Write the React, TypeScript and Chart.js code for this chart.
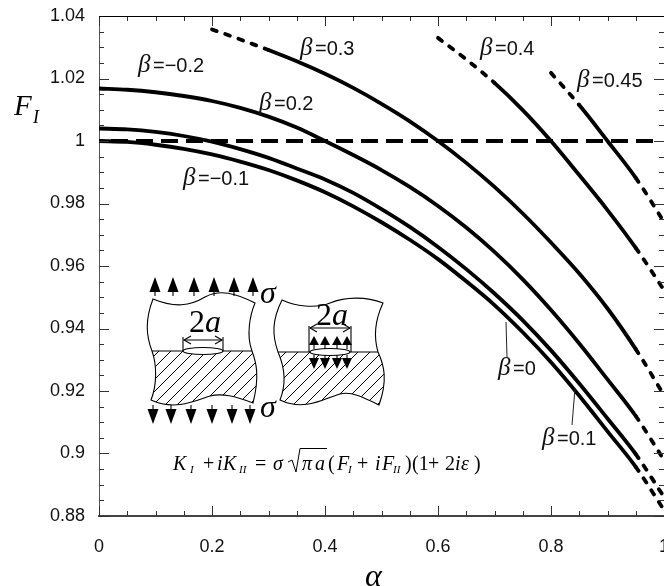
import React, { useEffect, useRef } from "react";
import { Chart, registerables } from "chart.js";

Chart.register(...registerables);

const alphaAll = [0, 0.05, 0.1, 0.15, 0.2, 0.25, 0.3, 0.35, 0.4, 0.45, 0.5, 0.55, 0.6, 0.65, 0.7, 0.75, 0.8, 0.85, 0.9, 0.95, 1];
const alpha03 = alphaAll.slice(4);
const alpha04 = alphaAll.slice(12);
const alpha045 = alphaAll.slice(16);

const beta0 = [1.0, 0.9997, 0.9988, 0.9975, 0.9957, 0.9934, 0.9907, 0.9874, 0.9836, 0.9791, 0.974, 0.9684, 0.9622, 0.9551, 0.9475, 0.9388, 0.9292, 0.9185, 0.9071, 0.8957, 0.8819];
const beta01 = [1.004, 1.0037, 1.0029, 1.0016, 0.9998, 0.9974, 0.9946, 0.9912, 0.9877, 0.9834, 0.9782, 0.9725, 0.9661, 0.959, 0.9512, 0.9426, 0.933, 0.9224, 0.9112, 0.8998, 0.8861];
const beta02 = [1.0168, 1.0164, 1.0156, 1.0144, 1.0128, 1.0106, 1.0078, 1.0043, 1.0, 0.9955, 0.9907, 0.9853, 0.9792, 0.9723, 0.9645, 0.9557, 0.9459, 0.9352, 0.9237, 0.912, 0.8979];
const beta03 = [1.0357, 1.0325, 1.0291, 1.0255, 1.0215, 1.017, 1.0119, 1.0063, 1.0, 0.993, 0.9853, 0.9768, 0.9675, 0.9576, 0.9464, 0.9334, 0.9187];
const beta04 = [1.033, 1.0261, 1.0186, 1.0099, 1.0, 0.9891, 0.9779, 0.9658, 0.9523];
const beta045 = [1.0218, 1.0115, 1.0, 0.9882, 0.9741];
const referenceX = [0, 0.982];
const referenceY = [1, 1];

const xTickLabels = ["0", "0.2", "0.4", "0.6", "0.8", "1"];
const yTickLabels = ["0.88", "0.9", "0.92", "0.94", "0.96", "0.98", "1", "1.02", "1.04"];

const SERIF = '"Liberation Serif"';
const SANS = '"Liberation Sans"';

const betaLabels: [string, number, number][] = [
  ["=\u22120.2", 138, 65],
  ["=0.3", 300, 48],
  ["=0.2", 259, 103],
  ["=\u22120.1", 183, 178],
  ["=0.4", 480, 48],
  ["=0.45", 577, 80],
  ["=0", 498, 368],
  ["=0.1", 542, 438],
];

const formulaParts: [string, number, number, boolean][] = [
  ["K", 173, 20, true], ["I", 190, 11, true], ["+", 203, 20, false], ["i", 217, 20, true], ["K", 223, 20, true],
  ["II", 239, 11, true], ["=", 255, 20, false], ["\u03c3", 273, 20, true], ["\u03c0", 302, 20, true], ["a", 315, 20, true],
  ["(", 328, 20, false], ["F", 337, 20, true], ["I", 348, 11, true], ["+", 357, 20, false], ["i", 375, 20, true],
  ["F", 382, 20, true], ["II", 393, 11, true], [")", 405, 20, false], ["(1", 412, 20, false], ["+", 428, 20, false],
  ["2", 445, 20, false], ["i", 455, 20, true], ["\u03b5", 461, 20, true], [")", 474, 20, false],
];

function toXY(xs: number[], ys: number[]) {
  return xs.map((x, i) => ({ x, y: ys[i] }));
}

function curve(label: string, xs: number[], ys: number[], dashUntil: number) {
  return {
    label,
    data: toXY(xs, ys),
    borderColor: "#000",
    borderWidth: 3.8,
    borderCapStyle: "round" as const,
    pointRadius: 0,
    cubicInterpolationMode: "monotone" as const,
    segment: {
      borderDash: (ctx: any) =>
        ctx.p0.parsed.x >= 0.949 || ctx.p0.parsed.x < dashUntil ? [5, 9] : undefined,
    },
  };
}

function path(ctx: CanvasRenderingContext2D, pts: number[][]) {
  ctx.beginPath();
  pts.forEach((p, i) => (i === 0 ? ctx.moveTo(p[0], p[1]) : ctx.lineTo(p[0], p[1])));
  ctx.stroke();
}

function arrowHead(ctx: CanvasRenderingContext2D, x: number, tip: number, base: number, hw: number, shaft: number) {
  ctx.beginPath();
  ctx.moveTo(x, tip);
  ctx.lineTo(x - hw, base);
  ctx.lineTo(x + hw, base);
  ctx.closePath();
  ctx.fill();
  ctx.beginPath();
  ctx.moveTo(x, base);
  ctx.lineTo(x, shaft);
  ctx.stroke();
}

function doubleArrow(ctx: CanvasRenderingContext2D, x0: number, x1: number, y: number) {
  path(ctx, [[x0, y], [x1, y]]);
  path(ctx, [[x0 + 7, y - 4], [x0, y], [x0 + 7, y + 4]]);
  path(ctx, [[x1 - 7, y - 4], [x1, y], [x1 - 7, y + 4]]);
}

function block(ctx: CanvasRenderingContext2D, outline: () => void, lineY: number, left: number, right: number, bottom: number) {
  ctx.save();
  ctx.beginPath();
  outline();
  ctx.clip();
  ctx.beginPath();
  ctx.rect(left - 20, lineY, right - left + 40, bottom - lineY + 20);
  ctx.clip();
  ctx.lineWidth = 1;
  for (let c = left - 80; c < right + 90; c += 12) {
    ctx.beginPath();
    ctx.moveTo(c, bottom + 10);
    ctx.lineTo(c + 80, bottom - 70);
    ctx.stroke();
  }
  ctx.restore();
  ctx.beginPath();
  outline();
  ctx.stroke();
}

function drawInset(ctx: CanvasRenderingContext2D) {
  ctx.save();
  ctx.strokeStyle = "#000";
  ctx.fillStyle = "#000";
  ctx.lineWidth = 1.1;

  const leftOutline = () => {
    ctx.moveTo(153, 299);
    ctx.bezierCurveTo(175, 308, 190, 306, 205, 297);
    ctx.bezierCurveTo(220, 289, 235, 293, 255, 303);
    ctx.bezierCurveTo(250, 315, 246, 335, 252, 351);
    ctx.bezierCurveTo(256, 362, 260, 375, 253, 403);
    ctx.bezierCurveTo(235, 396, 222, 393, 210, 396);
    ctx.bezierCurveTo(195, 401, 175, 411, 151, 400);
    ctx.bezierCurveTo(157, 385, 157, 365, 152, 351);
    ctx.bezierCurveTo(146, 335, 145, 320, 153, 299);
    ctx.closePath();
  };
  const rightOutline = () => {
    ctx.moveTo(282, 300);
    ctx.bezierCurveTo(295, 306, 315, 309, 330, 303);
    ctx.bezierCurveTo(345, 297, 365, 296, 383, 303);
    ctx.bezierCurveTo(376, 318, 373, 335, 378, 352);
    ctx.bezierCurveTo(384, 365, 388, 380, 379, 405);
    ctx.bezierCurveTo(365, 398, 352, 391, 340, 394);
    ctx.bezierCurveTo(325, 398, 305, 412, 280, 400);
    ctx.bezierCurveTo(286, 385, 285, 368, 278, 352);
    ctx.bezierCurveTo(272, 335, 272, 320, 282, 300);
    ctx.closePath();
  };
  block(ctx, leftOutline, 351, 146, 260, 410);
  block(ctx, rightOutline, 352, 272, 388, 412);
  path(ctx, [[152, 351], [252, 351]]);
  path(ctx, [[278, 352], [378, 352]]);

  [[203, 351], [330, 352]].forEach(([x, y]) => {
    ctx.save();
    ctx.fillStyle = "#fff";
    ctx.beginPath();
    ctx.ellipse(x, y, 20, 3.5, 0, 0, Math.PI * 2);
    ctx.fill();
    ctx.stroke();
    ctx.restore();
  });

  path(ctx, [[183, 337], [183, 351]]);
  path(ctx, [[223, 337], [223, 351]]);
  doubleArrow(ctx, 184, 222, 340);
  path(ctx, [[309, 326], [309, 352]]);
  path(ctx, [[351, 326], [351, 352]]);
  doubleArrow(ctx, 310, 350, 328);

  [155, 173, 194, 214, 234, 253].forEach((x) => arrowHead(ctx, x, 277, 292, 5.5, 296));
  [153, 171, 191, 212, 232, 250].forEach((x) => arrowHead(ctx, x, 424, 409, 5.5, 405));
  [314, 325, 337, 347].forEach((x) => arrowHead(ctx, x, 336, 345, 5, 349));
  [314, 325, 337, 347].forEach((x) => arrowHead(ctx, x, 369, 358, 5, 355));

  ctx.textAlign = "center";
  ctx.textBaseline = "alphabetic";
  const twoA = (cx: number, by: number) => {
    ctx.font = `32px ${SERIF}`;
    ctx.fillText("2", cx - 8, by);
    ctx.font = `italic 32px ${SERIF}`;
    ctx.fillText("a", cx + 8, by);
  };
  twoA(205, 332);
  twoA(332, 325);

  ctx.font = `italic 32px ${SERIF}`;
  ctx.fillText("\u03c3", 268, 303);
  ctx.fillText("\u03c3", 268, 417);

  ctx.textAlign = "left";
  formulaParts.forEach(([t, x, size, italic]) => {
    ctx.font = `${italic ? "italic " : ""}${size}px ${SERIF}`;
    ctx.fillText(t, x, size < 15 ? 473 : 470);
  });
  ctx.lineWidth = 1;
  path(ctx, [[288, 462], [292, 460], [296, 472], [300, 448.5], [327, 448.5]]);
  ctx.restore();
}

const overlayPlugin = {
  id: "overlay",
  afterDatasetsDraw(chart: any) {
    const ctx: CanvasRenderingContext2D = chart.ctx;
    const { left, right, top, bottom } = chart.chartArea;
    const { x, y } = chart.scales;
    ctx.save();
    ctx.lineWidth = 1;

    ctx.strokeStyle = "#333";
    y.ticks.forEach((t: any, i: number) => {
      const py = Math.round(y.getPixelForValue(t.value)) + 0.5;
      const len = i % 4 === 0 ? 10 : 5;
      path(ctx, [[left, py], [left + len, py]]);
      path(ctx, [[right - len, py], [right, py]]);
    });
    x.ticks.forEach((t: any, i: number) => {
      const px = Math.round(x.getPixelForValue(t.value)) + 0.5;
      const len = i % 4 === 0 ? 10 : 5;
      path(ctx, [[px, top], [px, top + len]]);
      path(ctx, [[px, bottom - len], [px, bottom]]);
    });
    ctx.strokeStyle = "#000";
    path(ctx, [[left, top + 0.5], [right, top + 0.5]]);

    ctx.strokeStyle = "#222";
    path(ctx, [[506, 322], [507, 357]]);
    path(ctx, [[575, 388], [572, 425]]);

    ctx.fillStyle = "#111";
    ctx.textAlign = "left";
    ctx.textBaseline = "alphabetic";
    betaLabels.forEach(([t, bx, by]) => {
      ctx.font = `italic 25px ${SERIF}`;
      ctx.fillText("\u03b2", bx, by + 7);
      ctx.font = `20px ${SANS}`;
      ctx.fillText(t, bx + 15, by + 7);
    });

    ctx.fillStyle = "#000";
    ctx.font = `italic 29px ${SERIF}`;
    ctx.fillText("F", 14, 115);
    ctx.font = `italic 18px ${SERIF}`;
    ctx.fillText("I", 33, 123);

    drawInset(ctx);
    ctx.restore();
  },
};

export default function App() {
  const ref = useRef<HTMLCanvasElement>(null);
  useEffect(() => {
    document.body.style.margin = "0";
    const chart = new Chart(ref.current as HTMLCanvasElement, {
      type: "line",
      plugins: [overlayPlugin],
      data: {
        datasets: [
          curve("\u03b2=0", alphaAll, beta0, -1),
          curve("\u03b2=\u00b10.1", alphaAll, beta01, -1),
          curve("\u03b2=\u00b10.2", alphaAll, beta02, -1),
          curve("\u03b2=0.3", alpha03, beta03, 0.3),
          curve("\u03b2=0.4", alpha04, beta04, 0.7),
          curve("\u03b2=0.45", alpha045, beta045, 0.85),
          {
            label: "F=1",
            data: toXY(referenceX, referenceY),
            borderColor: "#000",
            borderWidth: 4,
            borderDash: [17, 8],
            borderDashOffset: 13,
            pointRadius: 0,
          },
        ],
      },
      options: {
        animation: false,
        responsive: false,
        parsing: false,
        layout: { autoPadding: false, padding: { top: 16, right: 56, left: 0, bottom: 0 } },
        plugins: { legend: { display: false }, tooltip: { enabled: false } },
        scales: {
          x: {
            type: "linear",
            min: 0,
            max: 1,
            grid: { display: false, drawTicks: false },
            border: { display: true, color: "#444", width: 2 },
            title: {
              display: true,
              text: "\u03b1  ",
              color: "#000",
              font: { family: "Liberation Serif", style: "italic", size: 32 },
              padding: { top: 0, bottom: -11 },
            },
            ticks: {
              stepSize: 0.05,
              autoSkip: false,
              maxRotation: 0,
              padding: 20,
              color: "#111",
              font: { family: "Liberation Sans", size: 18 },
              callback: (v: any) => {
                const i = Math.round(Number(v) * 100);
                return i % 20 === 0 ? xTickLabels[i / 20] : "";
              },
            },
            afterFit: (s: any) => {
              s.height = 70;
            },
          },
          y: {
            type: "linear",
            min: 0.88,
            max: 1.04,
            grid: { display: false, drawTicks: true, tickLength: 14 },
            border: { display: true, color: "#555", width: 1 },
            ticks: {
              stepSize: 0.005,
              autoSkip: false,
              padding: 0,
              color: "#111",
              font: { family: "Liberation Sans", size: 18 },
              callback: (v: any) => {
                const i = Math.round((Number(v) - 0.88) * 1000);
                return i % 20 === 0 ? yTickLabels[i / 20] : "";
              },
            },
            afterFit: (s: any) => {
              s.width = 99;
            },
          },
        },
      },
    } as any);
    return () => chart.destroy();
  }, []);
  return (
    <div style={{ width: 664, height: 586, overflow: "hidden" }}>
      <canvas ref={ref} width={720} height={586} style={{ display: "block" }} />
    </div>
  );
}
